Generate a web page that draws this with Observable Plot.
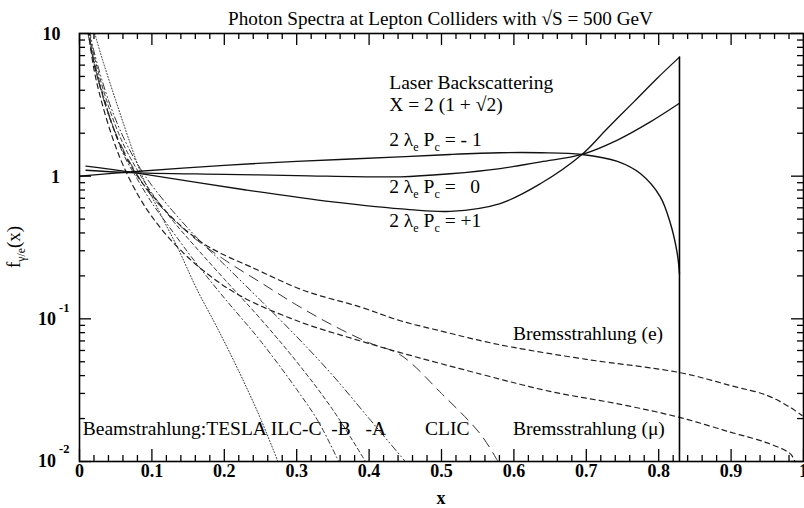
<!DOCTYPE html>
<html><head><meta charset="utf-8">
<script src="https://cdn.jsdelivr.net/npm/d3@7"></script>
<script src="https://cdn.jsdelivr.net/npm/@observablehq/plot@0.6"></script>
<style>body{margin:0;background:#fff;font-family:"Liberation Serif",serif}</style>
</head><body><div id="chart"></div>
<script>
// ---- Laser backscattering spectra (x, f) ----
const laserM1 = [[0,1.0],[0.069,1.07],[0.2,1.19],[0.3,1.27],[0.45,1.37],[0.512,1.42],[0.581,1.46],[0.637,1.46],[0.694,1.42],[0.743,1.27],[0.775,1.04],[0.802,0.72],[0.816,0.47],[0.8255,0.29],[0.8287,0.207]];
const laserZero = [[0.009,1.10],[0.069,1.06],[0.2,1.03],[0.3,1.01],[0.443,0.99],[0.512,1.04],[0.581,1.13],[0.637,1.26],[0.694,1.42],[0.743,1.79],[0.789,2.41],[0.8287,3.24]];
const laserP1 = [[0.009,1.175],[0.069,1.07],[0.23,0.80],[0.35,0.66],[0.456,0.583],[0.512,0.567],[0.581,0.643],[0.637,0.889],[0.694,1.42],[0.729,2.16],[0.766,3.33],[0.798,4.86],[0.8287,6.83]];
const laserEdge = [0.8287];
const laserEdgeTop = [6.83];

// ---- Beamstrahlung spectra ----
const tesla = [[0.02,10.5],[0.03,7.0],[0.05,3.4],[0.07,1.7],[0.084,1.08],[0.1,0.72],[0.12,0.45],[0.135,0.32],[0.163,0.158],[0.19,0.087],[0.22,0.043],[0.25,0.02],[0.274,0.01]];
const ilcC = [[0.012,10.5],[0.02,6.5],[0.04,2.8],[0.06,1.45],[0.08,0.95],[0.1,0.65],[0.13,0.4],[0.16,0.25],[0.2,0.14],[0.25,0.07],[0.3,0.032],[0.33,0.019],[0.358,0.01]];
const ilcB = [[0.013,10.5],[0.02,7.0],[0.04,3.1],[0.06,1.7],[0.08,1.1],[0.1,0.76],[0.13,0.48],[0.16,0.32],[0.2,0.19],[0.25,0.1],[0.3,0.05],[0.35,0.023],[0.395,0.01]];
const ilcA = [[0.014,10.5],[0.02,7.5],[0.04,3.4],[0.06,1.9],[0.08,1.22],[0.1,0.86],[0.13,0.56],[0.16,0.38],[0.2,0.24],[0.25,0.135],[0.3,0.075],[0.35,0.04],[0.4,0.02],[0.45,0.01]];
const clic = [[0.011,10.5],[0.02,6.2],[0.04,2.7],[0.06,1.55],[0.08,1.02],[0.1,0.72],[0.15,0.4],[0.2,0.26],[0.25,0.18],[0.3,0.125],[0.35,0.09],[0.4,0.068],[0.443,0.056],[0.5,0.03],[0.554,0.0155],[0.578,0.01]];

// ---- Bremsstrahlung spectra ----
const bremsE = [[0.012,10.5],[0.02,6.2],[0.03,4.0],[0.045,2.3],[0.06,1.5],[0.08,1.0],[0.1,0.74],[0.13,0.5],[0.17,0.34],[0.2,0.28],[0.236,0.232],[0.31,0.158],[0.388,0.121],[0.443,0.097],[0.5,0.082],[0.554,0.0703],[0.6,0.063],[0.7,0.052],[0.83,0.0419],[0.9,0.034],[0.95,0.029],[0.982,0.0239],[0.998,0.021]];
const bremsMu = [[0.012,10.5],[0.02,5.6],[0.03,3.4],[0.045,1.9],[0.06,1.2],[0.08,0.75],[0.1,0.52],[0.13,0.34],[0.17,0.22],[0.222,0.145],[0.305,0.095],[0.388,0.07],[0.443,0.058],[0.554,0.041],[0.65,0.031],[0.75,0.025],[0.83,0.0203],[0.9,0.016],[0.95,0.0135],[0.982,0.0113],[0.988,0.01]];

// ---- Axes ----
const xMajor = [0,0.1,0.2,0.3,0.4,0.5,0.6,0.7,0.8,0.9,1];
const xMajorLabels = ["0","0.1","0.2","0.3","0.4","0.5","0.6","0.7","0.8","0.9","1"];
const xMinor = d3.range(0,1.0001,0.02).filter(v => Math.abs(v*10 - Math.round(v*10)) > 1e-6);
const yMajor = [0.01,0.1,1,10];
const yMinor = [0.01,0.1,1].flatMap(d => [2,3,4,5,6,7,8,9].map(k => k*d));

const W = 804, H = 508, MT = 33, MB = 47, ML = 79, MR = 1;
const innerH = H - MT - MB, innerW = W - ML - MR;
const serif = '"Liberation Serif", "Times New Roman", serif';

function rich(items) {
  return (index, scales, values, dims) => {
    const g = d3.create("svg:g").attr("font-family", serif).attr("fill", "black");
    for (const it of items) {
      const px = it.px != null ? it.px : scales.x(it.x);
      const py = it.py != null ? it.py : scales.y(it.y);
      const size = it.size || 19.5;
      const t = g.append("text")
        .attr("transform", `translate(${px},${py})${it.rotate ? ` rotate(${it.rotate})` : ""}`)
        .attr("font-size", size)
        .attr("font-weight", it.weight || "normal")
        .attr("text-anchor", it.anchor || "start");
      let shift = 0;
      for (const p of it.parts) {
        const s = t.append("tspan").text(p.t);
        const target = p.sub ? 5 : p.sup ? -8 : 0;
        if (target !== shift) { s.attr("dy", target - shift); shift = target; }
        if (p.sub || p.sup) s.attr("font-size", size * 0.62);
      }
    }
    return g.node();
  };
}

const lam = (v) => [{t:"2 λ"},{t:"e",sub:true},{t:" P"},{t:"c",sub:true},{t:v}];

const line = (data, dash, sw = 1, color = "#222") =>
  Plot.line(data, {x: d => d[0], y: d => d[1], stroke: color, strokeWidth: sw, strokeDasharray: dash, curve: "catmull-rom", clip: true});

const chart = Plot.plot({
  width: W, height: H,
  marginTop: MT, marginBottom: MB, marginLeft: ML, marginRight: MR,
  x: {domain: [0, 1], axis: null},
  y: {type: "log", domain: [0.01, 10], axis: null},
  style: {fontFamily: serif, background: "white"},
  marks: [
    // beamstrahlung
    line(tesla, "1,2", 1, "#333"),
    line(ilcC, "5,3,1,3", 1, "#333"),
    line(ilcB, "4,3", 1, "#333"),
    line(ilcA, "7,3,1,3,1,3", 1, "#333"),
    line(clic, "10,7", 1, "#333"),
    // bremsstrahlung
    line(bremsE, "5,4", 1.2, "#222"),
    line(bremsMu, "5,4", 1.2, "#222"),
    // laser
    line(laserM1, null, 1.4, "#111"),
    line(laserZero, null, 1.3, "#111"),
    line(laserP1, null, 1.3, "#111"),
    Plot.ruleX(laserEdge, {x: d => d, y1: 0.01, y2: (d, i) => laserEdgeTop[i], stroke: "#000", strokeWidth: 1.6}),
    // frame + ticks
    Plot.frame({stroke: "#000", strokeWidth: 1.6}),
    Plot.tickX(xMajor, {x: d => d, insetTop: innerH - 12, stroke: "#000", strokeWidth: 1.3}),
    Plot.tickX(xMajor, {x: d => d, insetBottom: innerH - 12, stroke: "#000", strokeWidth: 1.3}),
    Plot.tickX(xMinor, {x: d => d, insetTop: innerH - 6, stroke: "#000", strokeWidth: 1.3}),
    Plot.tickX(xMinor, {x: d => d, insetBottom: innerH - 6, stroke: "#000", strokeWidth: 1.3}),
    Plot.tickY(yMajor, {y: d => d, insetRight: innerW - 12, stroke: "#000", strokeWidth: 1.3}),
    Plot.tickY(yMajor, {y: d => d, insetLeft: innerW - 12, stroke: "#000", strokeWidth: 1.3}),
    Plot.tickY(yMinor, {y: d => d, insetRight: innerW - 6, stroke: "#000", strokeWidth: 1.3}),
    Plot.tickY(yMinor, {y: d => d, insetLeft: innerW - 6, stroke: "#000", strokeWidth: 1.3}),
    // x tick labels
    Plot.text(xMajor, {x: d => d, frameAnchor: "bottom", dy: 15, text: (d, i) => xMajorLabels[i], fontSize: 18, fontWeight: "bold", fill: "#000"}),
    // y tick labels & annotations
    rich([
      {px: 60.5, py: 39.5, anchor: "end", weight: "bold", size: 18, parts: [{t:"10"}]},
      {px: 60, py: 182.5, anchor: "end", weight: "bold", size: 18, parts: [{t:"1"}]},
      {px: 56, py: 324.5, anchor: "end", weight: "bold", size: 18, parts: [{t:"10"}]},
      {px: 59, py: 312, anchor: "start", weight: "bold", size: 12.5, parts: [{t:"-1"}]},
      {px: 56, py: 467, anchor: "end", weight: "bold", size: 18, parts: [{t:"10"}]},
      {px: 59, py: 453, anchor: "start", weight: "bold", size: 12.5, parts: [{t:"-2"}]},
      // title
      {px: 440.5, py: 25, anchor: "middle", size: 19.2, parts: [{t:"Photon Spectra at Lepton Colliders with √S = 500 GeV"}]},
      // axis labels
      {px: 441, py: 504, anchor: "middle", size: 18, weight: "bold", parts: [{t:"x"}]},
      {px: 20, py: 247, anchor: "middle", size: 19, rotate: -90, parts: [{t:"f"},{t:"γ/e",sub:true},{t:"(x)"}]},
      // laser labels
      {x: 0.4285, y: 4.02, anchor: "start", parts: [{t:"Laser Backscattering"}]},
      {x: 0.4285, y: 2.83, anchor: "start", parts: [{t:"X = 2 (1 + √2)"}]},
      {x: 0.4285, y: 1.61, anchor: "start", parts: lam(" = - 1")},
      {x: 0.4285, y: 0.76, anchor: "start", parts: lam(" =   0")},
      {x: 0.4285, y: 0.44, anchor: "start", parts: lam(" = +1")},
      // bremsstrahlung labels
      {x: 0.5995, y: 0.0703, anchor: "start", parts: [{t:"Bremsstrahlung (e)"}]},
      {x: 0.5995, y: 0.0152, anchor: "start", parts: [{t:"Bremsstrahlung (μ)"}]},
      // beamstrahlung labels
      {x: 0.0052, y: 0.0152, anchor: "start", parts: [{t:"Beamstrahlung:TESLA ILC-C  -B   -A"}]},
      {x: 0.478, y: 0.0152, anchor: "start", parts: [{t:"CLIC"}]}
    ])
  ]
});
document.getElementById("chart").appendChild(chart);
</script>
</body></html>
